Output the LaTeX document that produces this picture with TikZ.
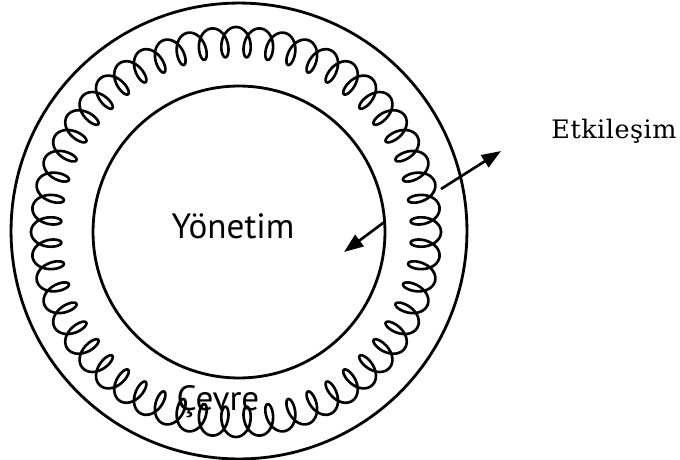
\documentclass[tikz,border=0pt]{standalone}
\usepackage{fontspec}
\usetikzlibrary{arrows.meta}
\newfontfamily\handfont{PT Sans}
\newfontfamily\labelfont[LetterSpace=2]{DejaVu Serif}

\begin{document}
\begin{tikzpicture}[
    x=0.02cm, y=-0.02cm,
    ring/.style={draw, circle, line width=1.6pt, inner sep=0pt, outer sep=0pt},
    spring/.style={line width=1.5pt, line cap=round, line join=round},
    hand/.style={font=\handfont\fontsize{20}{24}\selectfont, anchor=base},
    lab/.style={font=\labelfont\fontsize{14.5}{17}\selectfont, anchor=base},
    ar/.style={-{Triangle[length=11pt,width=8pt]}, line width=1.5pt},
  ]
    \useasboundingbox (0,0) rectangle (680,460);

    \node[ring, minimum size=9.12cm] (outer) at (239,231) {};
    \node[ring, minimum size=5.84cm] (inner) at (239,232) {};

    % coil: 52 loops round the ring, curls pointing inward
    \foreach \k in {0,...,51}
      \draw[spring, shift={(236,232)}]
        plot[domain=0:360, samples=48]
        ({\k*6.9231 + \x/52 + 2.6*sin(\x)}:{190 + 15*cos(\x)});

    \node[hand] (mgmt) at (233,238) {Yönetim};
    \node[hand] (env) at (218,410) {Çevre};
    \node[lab] (inter) at (614,138) {Etkileşim};

    \coordinate (outS) at (441,189);
    \coordinate (outT) at (501,151);
    \coordinate (inT) at (344,252);

    \draw[ar] (outS) -- (outT);
    \draw[ar] (inner.4) -- (inT);
  \end{tikzpicture}
\end{document}
